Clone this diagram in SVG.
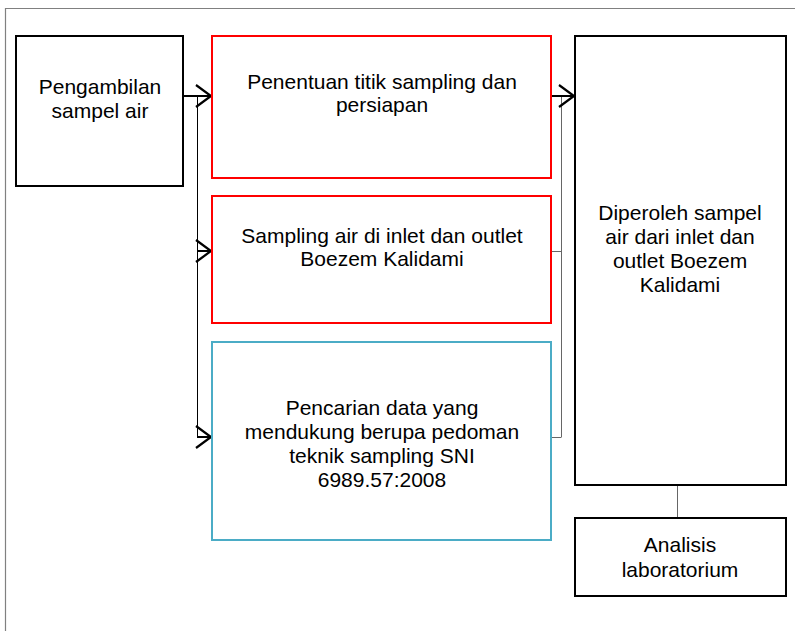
<svg xmlns="http://www.w3.org/2000/svg" width="795" height="631" viewBox="0 0 795 631">
  <style>
    .box { fill: #ffffff; stroke-width: 2; }
    .black { stroke: #000000; }
    .red { stroke: #ff0000; }
    .cyan { stroke: #4bacc6; }
    .lbl { font-family: "Liberation Sans", Arial, sans-serif; font-size: 21px; fill: #000000; text-anchor: middle; }
    .thick { stroke: #000000; stroke-width: 2; fill: none; }
    .thin { stroke: #000000; stroke-width: 1; fill: none; }
    .gray { stroke: #666666; stroke-width: 1; fill: none; }
  </style>
  <defs>
    <marker id="chevron" markerUnits="userSpaceOnUse" markerWidth="20" markerHeight="26" viewBox="-17 -13 20 26" refX="0" refY="0" orient="auto">
      <path d="M-15,-11 L0,0 L-15,11" fill="none" stroke="#000000" stroke-width="2.2"/>
    </marker>
  </defs>

  <rect width="795" height="631" fill="#ffffff"/>
  <!-- page frame -->
  <path d="M5.5,631 V8.5 H795" fill="none" stroke="#808080" stroke-width="1.2"/>

  <g id="connectors">
    <!-- left distribution -->
    <line class="thick" x1="183" y1="96" x2="211" y2="96" marker-end="url(#chevron)"/>
    <line class="thin" x1="197.5" y1="96" x2="197.5" y2="437"/>
    <line class="thick" x1="197" y1="251" x2="211" y2="251" marker-end="url(#chevron)"/>
    <line class="thick" x1="197" y1="437" x2="211" y2="437" marker-end="url(#chevron)"/>
    <!-- right collection -->
    <line class="gray" x1="561.5" y1="96" x2="561.5" y2="437"/>
    <line class="gray" x1="551" y1="251.5" x2="561.5" y2="251.5"/>
    <line class="gray" x1="551" y1="437.5" x2="561.5" y2="437.5"/>
    <line class="thick" x1="547" y1="96" x2="574" y2="96" marker-end="url(#chevron)"/>
    <!-- to laboratory -->
    <line class="gray" x1="677.5" y1="485" x2="677.5" y2="518"/>
  </g>

  <g id="pengambilan">
    <rect class="box black" x="16" y="36" width="167" height="150"/>
    <text class="lbl" x="100" y="94">Pengambilan</text>
    <text class="lbl" x="100" y="118">sampel air</text>
  </g>

  <g id="penentuan">
    <rect class="box red" x="212" y="36" width="339" height="142"/>
    <text class="lbl" x="382" y="89">Penentuan titik sampling dan</text>
    <text class="lbl" x="382" y="112">persiapan</text>
  </g>

  <g id="sampling">
    <rect class="box red" x="212" y="196" width="339" height="127"/>
    <text class="lbl" x="382" y="243">Sampling air di inlet dan outlet</text>
    <text class="lbl" x="382" y="266">Boezem Kalidami</text>
  </g>

  <g id="pencarian">
    <rect class="box cyan" x="212" y="342" width="339" height="198"/>
    <text class="lbl" x="382" y="415">Pencarian data yang</text>
    <text class="lbl" x="382" y="439">mendukung berupa pedoman</text>
    <text class="lbl" x="382" y="463">teknik sampling SNI</text>
    <text class="lbl" x="382" y="487">6989.57:2008</text>
  </g>

  <g id="diperoleh">
    <rect class="box black" x="575" y="36" width="211" height="449"/>
    <text class="lbl" x="680" y="220">Diperoleh sampel</text>
    <text class="lbl" x="680" y="244">air dari inlet dan</text>
    <text class="lbl" x="680" y="268">outlet Boezem</text>
    <text class="lbl" x="680" y="292">Kalidami</text>
  </g>

  <g id="analisis">
    <rect class="box black" x="575" y="518" width="211" height="78"/>
    <text class="lbl" x="680" y="552">Analisis</text>
    <text class="lbl" x="680" y="577">laboratorium</text>
  </g>
</svg>
